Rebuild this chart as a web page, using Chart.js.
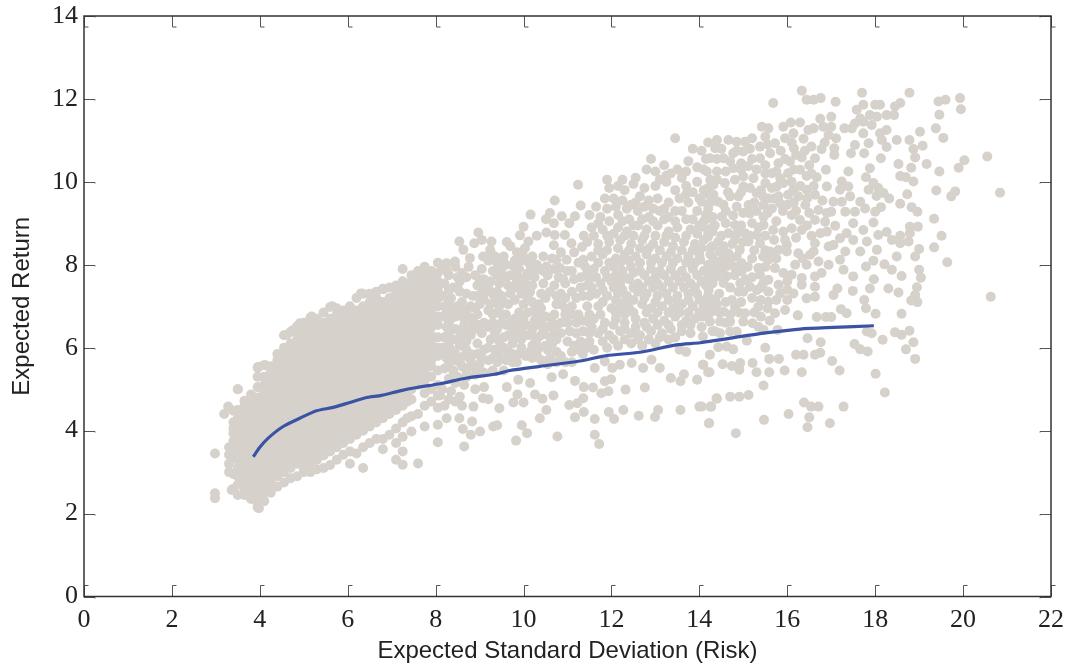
<!DOCTYPE html>
<html>
<head>
<meta charset="utf-8">
<title>Risk and return</title>
<script src="https://cdn.jsdelivr.net/npm/chart.js@4"></script>
<style>
  html, body { margin: 0; padding: 0; background: #fff; }
  #wrap { width: 1070px; height: 672px; }
</style>
</head>
<body>
<div id="wrap"><canvas id="risk-chart"></canvas></div>
<script>
// tick values
const xTickValues = [0, 2, 4, 6, 8, 10, 12, 14, 16, 18, 20, 22];
const yTickValues = [0, 2, 4, 6, 8, 10, 12, 14];

// blue curve
const frontierRisk = [3.85, 4.0, 4.19, 4.53, 4.91, 5.29, 5.67, 6.05, 6.43, 6.77, 7.19, 7.57, 8.1, 8.71, 9.35, 9.69, 10.37, 11.28, 11.89, 12.65, 13.48, 14.02, 14.46, 15.46, 16.29, 17.05, 17.97];
const frontierReturn = [3.37, 3.6, 3.82, 4.1, 4.3, 4.48, 4.56, 4.68, 4.8, 4.85, 4.96, 5.04, 5.13, 5.27, 5.36, 5.45, 5.55, 5.68, 5.81, 5.89, 6.07, 6.12, 6.19, 6.35, 6.45, 6.49, 6.53];

// solid part of the cloud, one list of returns per risk column
const coreRisk = [3.3, 3.4, 3.5, 3.65, 3.8, 3.95, 4.1, 4.25, 4.4, 4.55, 4.7, 4.85, 5.0, 5.15, 5.3, 5.45, 5.6, 5.75, 5.9, 6.05, 6.2, 6.35, 6.5, 6.65, 6.8, 6.95, 7.1, 7.25, 7.35, 7.45, 7.6, 7.75, 7.9, 8.05];
const coreReturns = [
  [3.2, 3.42, 3.0, 3.6],
  [2.6, 2.95, 3.75, 3.93, 4.2, 4.48, 3.35, 3.55, 4.05],
  [2.45, 2.7, 2.9, 3.1, 3.3, 3.5, 3.7, 3.9, 4.1, 4.3, 4.5, 5.0],
  [2.45, 2.6, 2.8, 3.0, 3.2, 3.4, 3.6, 3.8, 4.0, 4.2, 4.4, 4.6, 4.72],
  [2.35, 2.5, 2.7, 2.9, 3.1, 3.3, 3.5, 3.7, 3.9, 4.1, 4.3, 4.5, 4.7, 4.87],
  [2.15, 2.25, 2.45, 2.6, 2.8, 3.0, 3.2, 3.4, 3.6, 3.8, 4.0, 4.2, 4.4, 4.6, 4.8, 5.05, 5.3, 5.52],
  [2.3, 2.5, 2.7, 2.9, 3.1, 3.3, 3.5, 3.7, 3.9, 4.1, 4.3, 4.5, 4.7, 4.9, 5.1, 5.3, 5.58],
  [2.5, 2.6, 2.8, 3.0, 3.2, 3.4, 3.6, 3.8, 4.0, 4.2, 4.4, 4.6, 4.8, 5.0, 5.2, 5.4, 5.55],
  [2.65, 2.9, 3.1, 3.3, 3.5, 3.7, 3.9, 4.1, 4.3, 4.5, 4.7, 4.9, 5.1, 5.3, 5.5, 5.7, 5.85],
  [2.75, 3.0, 3.2, 3.4, 3.6, 3.8, 4.0, 4.2, 4.4, 4.6, 4.8, 5.0, 5.2, 5.4, 5.6, 5.8, 6.0, 6.3],
  [2.85, 3.1, 3.3, 3.5, 3.7, 3.9, 4.1, 4.3, 4.5, 4.7, 4.9, 5.1, 5.3, 5.5, 5.7, 5.9, 6.1, 6.38],
  [2.9, 3.2, 3.4, 3.6, 3.8, 4.0, 4.2, 4.4, 4.6, 4.8, 5.0, 5.2, 5.4, 5.6, 5.8, 6.0, 6.2, 6.4, 6.52],
  [3.0, 3.1, 3.3, 3.5, 3.7, 3.9, 4.1, 4.3, 4.5, 4.7, 4.9, 5.1, 5.3, 5.5, 5.7, 5.9, 6.1, 6.3, 6.5, 6.6],
  [3.0, 3.2, 3.4, 3.6, 3.8, 4.0, 4.2, 4.4, 4.6, 4.8, 5.0, 5.2, 5.4, 5.6, 5.8, 6.0, 6.2, 6.4, 6.6, 6.72],
  [3.07, 3.3, 3.5, 3.7, 3.9, 4.1, 4.3, 4.5, 4.7, 4.9, 5.1, 5.3, 5.5, 5.7, 5.9, 6.1, 6.3, 6.5, 6.7],
  [3.1, 3.4, 3.6, 3.8, 4.0, 4.2, 4.4, 4.6, 4.8, 5.0, 5.2, 5.4, 5.6, 5.8, 6.0, 6.2, 6.4, 6.6, 6.85],
  [3.17, 3.5, 3.7, 3.9, 4.1, 4.3, 4.5, 4.7, 4.9, 5.1, 5.3, 5.5, 5.7, 5.9, 6.1, 6.3, 6.5, 6.7, 6.98],
  [3.3, 3.6, 3.8, 4.0, 4.2, 4.4, 4.6, 4.8, 5.0, 5.2, 5.4, 5.6, 5.8, 6.0, 6.2, 6.4, 6.6, 6.8, 6.95],
  [3.42, 3.7, 3.9, 4.1, 4.3, 4.5, 4.7, 4.9, 5.1, 5.3, 5.5, 5.7, 5.9, 6.1, 6.3, 6.5, 6.7, 6.9],
  [3.2, 3.5, 3.8, 4.0, 4.2, 4.4, 4.6, 4.8, 5.0, 5.2, 5.4, 5.6, 5.8, 6.0, 6.2, 6.4, 6.6, 6.8, 7.0],
  [3.45, 3.9, 4.1, 4.3, 4.5, 4.7, 4.9, 5.1, 5.3, 5.5, 5.7, 5.9, 6.1, 6.3, 6.5, 6.7, 6.9, 7.2],
  [3.1, 3.6, 4.0, 4.2, 4.4, 4.6, 4.8, 5.0, 5.2, 5.4, 5.6, 5.8, 6.0, 6.2, 6.4, 6.6, 6.8, 7.0, 7.3],
  [3.7, 4.1, 4.3, 4.5, 4.7, 4.9, 5.1, 5.3, 5.5, 5.7, 5.9, 6.1, 6.3, 6.5, 6.7, 6.9, 7.1, 7.3],
  [3.8, 4.2, 4.4, 4.6, 4.8, 5.0, 5.2, 5.4, 5.6, 5.8, 6.0, 6.2, 6.4, 6.6, 6.8, 7.0, 7.2, 7.35],
  [3.55, 3.8, 4.3, 4.5, 4.7, 4.9, 5.1, 5.3, 5.5, 5.7, 5.9, 6.1, 6.3, 6.5, 6.7, 6.9, 7.1, 7.42],
  [3.9, 4.4, 4.6, 4.8, 5.0, 5.2, 5.4, 5.6, 5.8, 6.0, 6.2, 6.4, 6.6, 6.8, 7.0, 7.2, 7.45],
  [3.3, 3.7, 4.05, 4.5, 4.7, 4.9, 5.1, 5.3, 5.5, 5.7, 5.9, 6.1, 6.3, 6.5, 6.7, 6.9, 7.1, 7.3, 7.5],
  [3.18, 3.5, 3.85, 4.2, 4.6, 4.8, 5.0, 5.2, 5.4, 5.6, 5.8, 6.0, 6.2, 6.4, 6.6, 6.8, 7.0, 7.2, 7.4, 7.6, 7.9],
  [4.3, 4.7, 4.9, 5.1, 5.3, 5.5, 5.7, 5.9, 6.1, 6.3, 6.5, 6.7, 6.9, 7.1, 7.3, 7.5],
  [3.98, 4.35, 4.75, 5.0, 5.2, 5.4, 5.6, 5.8, 6.0, 6.2, 6.4, 6.6, 6.8, 7.0, 7.2, 7.4, 7.6, 7.75],
  [3.21, 4.4, 5.1, 5.3, 5.5, 5.7, 5.9, 6.1, 6.3, 6.5, 6.7, 6.9, 7.1, 7.3, 7.5, 7.7, 7.85],
  [4.1, 4.6, 4.9, 5.2, 5.4, 5.6, 5.8, 6.0, 6.2, 6.4, 6.6, 6.8, 7.0, 7.2, 7.4, 7.6, 7.75, 7.95],
  [4.7, 5.0, 5.3, 5.55, 5.7, 5.9, 6.1, 6.3, 6.5, 6.7, 6.9, 7.1, 7.3, 7.5, 7.7, 7.85],
  [3.72, 4.14, 4.55, 4.85, 5.1, 5.45, 5.8, 6.0, 6.25, 6.55, 6.75, 7.0, 7.2, 7.4, 7.6, 7.8, 8.05]
];

// the rest are risk,return,risk,return...
const strayLeft = [2.98, 3.45, 2.98, 2.49, 2.98, 2.37, 3.5, 5.0, 3.28, 4.58, 3.19, 4.4, 3.97, 5.54, 4.12, 5.58, 4.61, 6.31, 4.75, 6.42, 4.91, 6.59, 5.18, 6.75, 5.65, 7.0, 6.3, 7.31, 6.81, 7.41, 3.98, 2.13, 3.36, 2.57];

const midCloud = [
  8.15,7.95, 8.3,7.75, 8.45,7.95, 8.6,7.8, 8.75,7.95, 8.9,7.75, 9.05,7.9, 8.2,7.55, 8.4,7.45, 8.55,7.6, 8.95,7.5, 9.1,7.65,
  8.15,7.25, 8.35,7.2, 8.95,7.25, 9.1,7.3, 8.55,7.35, 8.2,7.0, 8.4,6.95, 8.6,7.1, 8.8,7.0, 9.0,7.05,
  8.15,6.75, 8.35,6.7, 8.55,6.85, 8.75,6.75, 8.95,6.8, 9.1,6.6, 8.25,6.5, 8.45,6.45, 8.65,6.55, 8.85,6.55, 9.05,6.35,
  8.2,6.25, 8.4,6.2, 8.6,6.3, 8.8,6.3, 8.95,6.1, 8.15,6.0, 8.35,5.95, 8.55,6.05, 8.8,5.85, 8.25,5.75, 8.45,5.7, 8.65,5.8, 8.95,5.85, 9.1,5.95,
  8.2,5.5, 8.4,5.45, 8.6,5.55, 8.8,5.55, 9.0,5.6, 8.3,5.25, 8.5,5.3, 8.7,5.3, 8.9,5.35, 9.1,5.4, 8.15,5.0, 8.35,4.95, 8.45,4.7, 8.2,4.6, 8.1,4.85,
  9.25,8.3, 9.4,8.05, 9.55,8.2, 9.7,8.45, 9.85,8.3, 10.05,8.1, 10.2,8.2, 9.3,7.85, 9.5,7.9, 9.7,7.75, 9.9,7.9, 10.1,7.8,
  9.25,7.6, 9.45,7.55, 9.65,7.5, 9.85,7.6, 10.05,7.55, 10.25,7.7, 9.3,7.3, 9.5,7.25, 9.7,7.3, 9.95,7.3, 10.15,7.35,
  9.25,7.05, 9.45,7.0, 9.65,7.05, 10.0,7.05, 10.2,7.1, 9.3,6.8, 9.5,6.8, 9.7,6.6, 9.9,6.85, 10.1,6.85,
  9.2,6.5, 9.4,6.45, 9.6,6.55, 9.85,6.6, 10.05,6.55, 10.25,6.65, 9.25,6.2, 9.45,6.15, 9.65,6.3, 9.85,6.25, 10.1,6.3,
  9.35,5.95, 9.55,6.0, 9.75,5.85, 9.95,6.0, 10.2,6.05, 9.2,5.7, 9.4,5.65, 9.6,5.7, 9.85,5.65, 10.05,5.8, 10.2,5.75, 9.3,5.45, 9.55,5.45,
  10.35,7.9, 10.55,7.75, 10.8,7.7, 11.0,7.85, 10.45,7.55, 10.7,7.5, 10.95,7.55, 11.15,7.65, 10.4,7.3, 10.6,7.35, 10.85,7.3, 11.1,7.35, 11.3,7.45, 11.45,7.5,
  10.35,7.05, 10.85,7.05, 11.1,7.0, 11.5,7.25, 10.3,6.8, 10.5,6.75, 10.7,6.8, 10.95,6.8, 11.45,7.0, 11.35,6.65, 11.5,6.6, 10.35,6.55, 10.55,6.5, 10.75,6.55, 11.0,6.6, 11.2,6.6,
  10.4,6.3, 10.6,6.25, 10.85,6.35, 11.05,6.4, 11.2,6.35, 10.35,6.0, 10.55,5.95, 10.65,6.1, 11.0,6.15, 11.15,6.05, 11.45,6.0, 10.4,5.7, 10.6,5.75, 10.85,5.8, 11.1,5.9, 11.35,5.85, 10.95,5.65,
  11.95,9.85, 12.15,9.9, 12.3,9.8, 12.5,9.95, 12.75,9.85, 13.0,9.9, 13.25,10.0, 13.45,9.8, 13.7,9.9, 13.95,10.0, 14.2,9.85,
  11.65,9.4, 11.85,9.6, 12.05,9.6, 12.25,9.55, 12.45,9.45, 12.65,9.65, 12.85,9.55, 13.05,9.6, 13.3,9.5, 13.55,9.6, 13.75,9.5, 14.0,9.6, 14.25,9.5,
  11.5,9.2, 11.75,9.15, 12.15,9.2, 12.4,9.1, 12.6,9.3, 12.85,9.15, 13.1,9.3, 13.3,9.15, 13.6,9.3, 13.95,9.3, 14.15,9.2,
  11.55,8.9, 11.8,8.85, 12.15,8.9, 12.35,8.8, 12.6,8.95, 12.8,8.85, 13.05,8.95, 13.3,8.8, 13.5,8.9, 13.8,8.85, 14.0,8.95, 14.3,8.9,
  11.45,8.55, 11.7,8.5, 11.95,8.55, 12.2,8.6, 12.45,8.5, 12.7,8.6, 12.95,8.5, 13.2,8.55, 13.4,8.45, 13.65,8.55, 13.9,8.5, 14.1,8.6,
  11.55,8.2, 11.8,8.25, 12.1,8.15, 12.3,8.25, 12.55,8.2, 12.8,8.25, 13.0,8.15, 13.25,8.2, 13.5,8.15, 13.75,8.2, 14.0,8.25, 14.3,8.2,
  11.6,7.9, 11.85,7.85, 12.05,7.95, 12.25,7.85, 12.45,7.95, 12.65,7.85, 12.9,7.9, 13.1,7.85, 13.35,7.9, 13.6,7.85, 13.85,7.9, 14.1,7.85, 14.35,7.9,
  11.5,7.65, 11.75,7.55, 12.0,7.6, 12.2,7.55, 12.4,7.65, 12.6,7.55, 12.85,7.6, 13.05,7.55, 13.3,7.6, 13.55,7.6, 13.8,7.55, 14.05,7.6,
  11.65,7.3, 11.9,7.25, 12.15,7.3, 12.35,7.25, 12.6,7.35, 12.8,7.3, 13.05,7.25, 13.25,7.3, 13.5,7.25, 13.75,7.3, 13.95,7.3, 14.2,7.25,
  11.7,7.0, 12.0,6.95, 12.2,7.0, 12.4,6.95, 12.7,7.05, 12.9,6.95, 13.15,7.0, 13.4,6.95, 13.6,7.05, 13.85,7.0, 14.1,7.0, 14.4,7.05,
  11.6,6.7, 11.85,6.6, 12.1,6.7, 12.3,6.6, 12.55,6.7, 12.75,6.6, 12.95,6.7, 13.2,6.65, 13.45,6.75, 13.7,6.65, 13.9,6.7,
  11.7,6.35, 11.95,6.3, 12.2,6.4, 12.45,6.35, 12.65,6.3, 12.9,6.4, 13.15,6.35, 13.35,6.45, 13.6,6.4, 13.8,6.35, 14.3,6.4,
  11.6,5.95, 11.9,6.0, 12.15,6.05, 12.45,6.1, 12.7,6.05, 13.0,6.1, 13.3,6.2, 13.55,5.95, 13.7,5.9,
  12.55,10.1, 12.8,10.3, 12.9,10.55, 13.45,11.05, 13.0,10.25, 13.2,10.4, 13.5,10.3, 13.75,10.5, 13.85,10.8, 14.05,10.75, 14.2,10.95, 13.6,10.1, 13.25,10.15, 12.25,10.05, 11.9,10.05, 14.1,10.3
];

// second pass over the same area, between the dots above
const midFill = [
  8.25,7.85, 8.5,7.7, 8.7,7.7, 9.0,7.65, 8.3,7.4, 8.5,7.45, 8.7,7.3, 8.85,7.25, 9.05,7.45, 8.3,7.1, 8.5,7.0, 8.7,6.9, 8.9,6.95, 9.1,7.15, 8.25,6.85, 8.45,6.75, 8.65,6.7, 8.85,6.7, 9.0,6.55, 8.3,6.6, 8.55,6.4, 8.75,6.45, 8.95,6.45,
  8.3,6.35, 8.5,6.2, 8.7,6.15, 8.3,6.1, 8.45,5.85, 8.7,5.95, 8.2,5.85, 8.55,5.65, 8.8,5.7, 9.05,5.75, 8.3,5.6, 8.7,5.45, 8.95,5.45, 8.45,5.15, 8.65,5.1, 8.3,4.75, 8.6,4.6, 9.1,5.05,
  9.2,8.1, 9.35,8.2, 9.6,8.0, 9.8,8.1, 9.95,8.1, 10.15,8.0, 9.4,7.75, 9.6,7.7, 9.85,7.75, 10.05,7.7, 10.25,7.9, 9.2,7.45, 9.4,7.35, 9.8,7.45, 10.0,7.45, 10.2,7.5, 9.35,7.15, 9.55,7.1, 9.8,7.15, 10.1,7.2,
  9.2,6.9, 9.4,6.85, 9.6,6.8, 9.8,6.7, 10.0,6.7, 10.25,6.9, 9.3,6.6, 9.5,6.6, 9.75,6.45, 9.95,6.4, 10.2,6.45, 9.35,6.35, 9.55,6.25, 9.75,6.1, 9.95,6.2, 10.25,6.25, 9.2,6.0, 9.45,5.8, 9.65,5.9, 9.9,5.85, 10.15,5.9, 9.3,5.75, 9.75,5.65,
  10.45,8.2, 10.65,8.15, 10.85,8.3, 11.15,8.3, 11.25,8.05, 10.45,7.85, 10.7,7.9, 10.9,7.65, 11.1,7.85, 11.3,7.7, 11.45,7.8, 10.5,7.2, 10.75,7.25, 10.95,7.2, 11.2,7.2, 11.35,7.25, 10.4,6.95, 10.75,7.05, 10.95,6.95,
  10.4,6.65, 10.65,6.6, 10.85,6.6, 11.1,6.8, 11.25,6.8, 11.5,6.8, 10.45,6.4, 10.7,6.35, 11.35,6.4, 11.5,6.35, 10.3,6.2, 10.5,6.05, 10.75,6.2, 11.3,6.15, 11.5,6.15, 10.3,5.85, 10.75,5.9, 11.25,5.95, 10.55,5.6, 10.75,5.65, 11.1,5.65,
  11.9,9.35, 12.1,9.4, 12.35,9.35, 12.55,9.5, 12.75,9.4, 12.95,9.35, 13.2,9.35, 13.45,9.3, 13.7,9.7, 13.85,9.75, 14.1,9.8, 11.7,9.0, 11.95,9.05, 12.25,9.05, 12.5,8.95, 12.7,9.1, 12.95,9.05, 13.2,9.1, 13.45,9.05, 13.7,9.1, 13.85,9.1, 14.1,9.05, 14.3,9.15,
  11.6,8.7, 11.9,8.7, 12.05,8.75, 12.3,8.7, 12.5,8.7, 12.75,8.7, 13.0,8.7, 13.25,8.7, 13.45,8.65, 13.7,8.7, 13.95,8.75, 14.2,8.75, 11.7,8.35, 11.9,8.35, 12.15,8.4, 12.4,8.35, 12.65,8.4, 12.85,8.4, 13.1,8.35, 13.35,8.3, 13.6,8.35, 13.85,8.35, 14.05,8.4, 14.25,8.4,
  11.7,8.05, 11.95,8.05, 12.2,8.05, 12.4,8.1, 12.65,8.05, 12.9,8.05, 13.15,8.05, 13.4,8.05, 13.7,8.05, 13.9,8.05, 14.2,8.0, 11.65,7.7, 11.9,7.7, 12.1,7.75, 12.3,7.7, 12.5,7.8, 12.75,7.75, 13.0,7.7, 13.2,7.75, 13.45,7.75, 13.7,7.7, 13.95,7.75, 14.2,7.7,
  11.55,7.45, 11.8,7.4, 12.05,7.45, 12.25,7.4, 12.5,7.45, 12.7,7.45, 12.95,7.45, 13.15,7.45, 13.4,7.45, 13.65,7.45, 13.9,7.45, 14.15,7.5, 11.8,7.1, 12.1,7.15, 12.3,7.1, 12.5,7.15, 12.75,7.2, 13.0,7.1, 13.3,7.15, 13.5,7.1, 13.75,7.15, 14.0,7.15, 14.3,7.15,
  11.75,6.8, 12.1,6.85, 12.3,6.8, 12.5,6.85, 12.8,6.85, 13.05,6.85, 13.3,6.85, 13.55,6.85, 13.75,6.85, 14.0,6.85, 14.25,6.85, 11.55,6.5, 11.8,6.45, 12.05,6.55, 12.3,6.45, 12.55,6.5, 12.8,6.5, 13.05,6.55, 13.3,6.55, 13.6,6.55, 13.8,6.55, 14.05,6.5,
  11.8,6.15, 12.05,6.2, 12.3,6.2, 12.6,6.2, 12.85,6.2, 13.1,6.25, 13.45,6.25, 13.1,10.05, 13.35,10.2, 13.7,10.25, 13.95,10.35, 14.15,10.55
];

const midEdges = [
  11.24,9.93, 10.71,9.55, 11.3,9.43, 10.16,9.21, 10.6,9.25, 10.51,9.1, 10.87,9.17, 11.17,9.17, 10.0,8.92, 10.69,9.0, 11.04,9.0, 8.97,8.78, 10.52,8.78, 10.71,8.72, 10.94,8.72,
  8.54,8.56, 8.88,8.52, 9.27,8.56, 9.05,8.6, 9.62,8.55, 9.92,8.71, 10.3,8.7, 10.11,8.56, 10.69,8.47, 11.09,8.52, 11.37,8.7, 11.33,8.43, 8.63,8.36, 9.24,8.36, 10.03,8.4, 10.0,8.2,
  8.25,8.04, 8.44,8.08, 8.78,8.16, 9.08,8.2, 9.46,8.16, 10.75,8.12, 10.98,8.12, 11.36,8.12, 9.78,7.96, 10.3,8.0, 10.52,7.96, 10.83,7.92, 11.4,7.96,
  8.9,5.0, 9.08,4.78, 9.2,4.76, 8.86,4.58, 9.45,4.54, 8.55,4.82, 8.25,4.3, 8.54,4.3, 8.83,4.22, 8.62,4.04, 8.8,3.9, 9.01,3.98, 8.65,3.62, 9.31,4.1, 9.4,4.13, 9.83,3.76, 9.96,4.13, 10.08,3.94, 10.77,3.86, 11.62,3.9, 11.72,3.68,
  11.62,4.28, 11.17,4.32, 11.37,4.45, 10.37,4.3, 10.52,4.5, 11.04,4.62, 11.36,4.78, 11.22,4.66, 10.0,4.68, 9.77,4.68, 9.86,4.87, 10.26,4.87, 10.43,4.77, 10.68,4.85, 9.62,5.05, 9.88,5.23, 10.15,5.15, 10.64,5.29, 10.9,5.36,
  11.17,5.2, 11.37,5.05, 11.58,5.04, 11.77,4.9, 11.93,4.95, 11.85,5.19, 11.99,5.24, 12.32,4.99, 12.76,5.04, 11.94,4.45, 12.06,4.28, 12.27,4.5, 12.62,4.36, 12.99,4.33, 13.06,4.5, 13.57,4.5, 14.0,4.58, 14.25,4.58, 14.39,4.78, 14.22,4.18,
  13.35,5.27, 13.57,5.19, 13.65,5.36, 13.95,5.23, 14.2,5.41, 14.08,5.59, 13.1,5.51, 12.72,5.51, 12.91,5.71, 12.46,5.63, 12.19,5.59, 12.02,5.51, 11.62,5.51, 11.85,5.67
];

const rightEdges = [
  16.33,12.2, 16.44,11.98, 16.6,11.98, 16.76,12.02, 17.1,11.93, 17.7,12.15, 18.78,12.15, 15.68,11.9, 19.44,11.94, 19.6,11.98, 19.46,11.62, 19.93,12.02, 19.95,11.75, 19.38,11.29, 19.55,11.06, 20.55,10.61, 20.03,10.52, 19.9,10.34, 19.46,10.25, 19.17,10.43, 19.39,9.79, 19.82,9.77, 19.73,9.65, 20.84,9.74, 19.34,9.11, 19.51,8.7, 19.34,8.42, 19.64,8.06, 20.63,7.23,
  17.58,11.74, 17.73,11.86, 18.0,11.86, 18.11,11.86, 18.57,11.9, 18.45,11.82, 17.88,11.61, 17.66,11.53, 18.04,11.57, 18.26,11.61, 18.43,11.61, 17.73,11.45, 17.92,11.37, 17.54,11.41, 17.47,11.29, 17.3,11.29, 17.73,11.17, 18.26,11.25, 18.11,11.17, 18.15,11.01, 18.49,11.01, 18.78,11.01, 19.02,11.21, 19.08,10.87, 18.87,10.79, 18.26,10.84, 17.85,10.93, 17.54,10.89, 17.45,10.69, 17.75,10.69, 18.91,10.59, 18.13,10.57, 18.53,10.43, 18.82,10.34, 17.88,10.33, 17.79,10.11, 18.57,10.14, 18.7,10.11, 18.87,10.01, 17.39,10.25, 17.24,10.01, 16.88,10.29, 16.67,10.11, 16.9,9.89, 17.2,9.81, 17.39,9.89, 17.43,9.65, 17.96,9.97, 18.07,9.85, 17.85,9.81, 18.19,9.73, 18.03,9.66, 18.32,9.6, 18.73,9.7, 18.57,9.47, 18.83,9.39, 18.96,9.28, 18.13,9.39, 17.66,9.52, 17.77,9.36, 18.0,9.28, 17.96,9.02, 17.73,8.84, 17.5,8.6, 18.07,8.72, 18.26,8.79, 18.57,8.7, 18.79,8.92, 18.97,8.92, 18.79,8.76, 18.76,8.56, 18.57,8.52, 18.38,8.6, 17.81,8.56, 18.04,8.36, 17.66,8.32, 17.96,8.1, 17.79,7.96, 18.49,8.2, 18.91,8.2, 19.0,8.38, 18.21,8.01, 18.38,7.88, 18.6,7.73, 19.0,7.88, 19.04,7.69, 18.95,7.46, 18.91,7.27, 18.82,7.14, 18.96,7.1, 18.53,7.33, 18.3,7.43, 17.97,7.65, 17.88,7.43, 17.5,7.72, 17.49,7.37, 17.14,7.43, 17.05,7.27, 17.75,7.15, 17.79,6.95, 18.01,6.82, 18.6,6.82, 17.22,6.93, 17.35,6.83, 17.0,6.74, 16.88,6.74, 16.67,6.74, 16.24,6.78,
  17.81,6.39, 17.92,6.35, 18.45,6.37, 18.6,6.31, 18.78,6.41, 18.87,6.13, 18.7,5.96, 18.91,5.73, 18.17,6.19, 17.53,6.09, 17.66,5.96, 17.83,5.91, 18.01,5.37, 18.22,4.92, 17.28,4.58, 17.02,5.68, 17.19,5.45, 16.76,6.13, 16.75,5.88, 16.63,5.83, 16.46,6.23, 16.37,5.83, 16.2,5.83, 15.81,5.73, 15.59,5.73, 15.5,6.0, 15.46,6.43, 15.78,6.43, 16.33,5.41, 15.94,5.45, 15.59,5.41, 15.3,5.41, 15.21,5.63, 14.93,5.63, 14.91,5.47, 14.74,5.56, 14.53,5.6, 14.23,5.41, 14.09,5.59,
  15.46,5.09, 15.12,4.86, 14.91,4.82, 14.7,4.82, 14.4,4.77, 14.27,4.58, 14.05,4.58, 14.22,4.18, 14.83,3.94, 15.47,4.26, 16.03,4.4, 16.38,4.68, 16.54,4.58, 16.71,4.58, 16.5,4.32, 16.46,4.08, 16.97,4.18, 15.08,6.17, 14.77,5.96, 14.62,6.03, 14.43,6.01, 14.24,5.83, 14.47,6.35, 14.7,6.39, 14.85,6.39
];

const upperCloud = [
  14.4,11.01, 14.66,11.01, 14.85,10.97, 15.04,10.97, 15.2,11.05, 15.42,11.33, 15.57,11.29, 15.5,11.09, 15.72,10.93, 15.91,11.33, 16.08,11.43, 16.29,11.43, 15.95,11.05, 16.14,11.17, 16.37,11.04, 16.48,11.25, 16.6,11.29, 16.75,11.52, 17.0,11.57, 16.82,11.33, 17.0,11.33, 16.94,11.13, 17.11,11.05, 16.78,10.79, 16.63,10.57, 17.07,10.81, 17.07,10.65, 16.15,10.81,
  14.36,10.81, 14.24,10.57, 14.55,10.57, 14.77,10.69, 15.0,10.73, 15.11,10.38, 15.38,10.85, 15.38,10.57, 15.61,10.69, 15.8,10.45, 16.06,10.49, 16.33,10.59, 14.77,10.33, 14.17,10.25, 14.4,10.25, 14.58,9.97, 14.81,10.05, 15.0,10.13, 15.23,10.09, 15.65,10.21, 15.5,9.97, 15.84,10.09, 16.02,10.21, 16.29,10.29, 16.44,10.14,
  14.32,9.93, 15.0,9.89, 15.76,9.89, 15.91,9.97, 16.14,9.81, 16.44,9.81, 14.32,9.69, 14.7,9.65, 14.89,9.65, 15.3,9.73, 15.57,9.6, 15.8,9.65, 16.02,9.69, 16.25,9.65, 16.63,9.69, 17.05,9.52, 17.24,9.52, 14.05,9.52, 14.43,9.52, 15.12,9.44, 15.46,9.44, 15.65,9.36, 15.84,9.48, 16.41,9.44, 16.71,9.32, 17.0,9.28, 17.32,9.28, 17.54,9.28,
  14.24,9.12, 14.51,9.16, 14.77,9.19, 15.15,9.24, 15.46,9.16, 16.1,9.2, 16.29,9.08, 16.63,9.08, 16.86,9.04, 17.09,8.94, 17.5,9.0, 14.09,8.92, 14.81,8.96, 15.46,8.96, 15.68,8.84, 15.91,8.8, 16.1,8.88, 16.33,8.84, 16.75,8.76, 17.35,8.76, 14.2,8.68, 14.66,8.76, 15.04,8.76, 15.3,8.72, 17.2,8.64,
  14.43,8.56, 14.81,8.6, 15.12,8.56, 15.38,8.52, 16.63,8.52, 15.99,8.48, 16.94,8.44, 17.05,8.48, 15.8,8.36, 15.61,8.32, 14.47,8.32, 14.66,8.28, 14.92,8.36, 16.6,8.32, 17.32,8.32, 16.25,8.28, 15.99,8.32, 14.02,8.12, 14.47,8.08, 14.7,8.12, 15.57,8.12, 14.96,8.04, 16.71,8.08, 16.52,8.24, 17.2,8.12, 16.94,8.0, 16.18,8.0,
  14.17,7.88, 14.96,7.84, 15.34,7.92, 15.72,7.92, 16.44,8.0, 17.28,7.88, 14.4,7.72, 14.62,7.72, 15.38,7.76, 15.91,7.8, 16.1,7.76, 16.78,7.8, 16.63,7.72, 15.57,7.64, 16.33,7.68, 14.55,7.56, 14.93,7.56, 15.15,7.47, 15.8,7.52, 16.33,7.52, 16.63,7.47, 14.21,7.39, 14.89,7.35, 15.31,7.39, 15.84,7.31, 15.57,7.35, 16.14,7.31, 16.63,7.23, 16.44,7.19,
  14.36,7.17, 14.13,7.15, 14.74,7.15, 15.57,7.11, 14.81,6.98, 15.34,6.99, 14.32,6.91, 14.55,6.87, 15.04,6.83, 15.72,6.83, 15.95,6.91, 14.05,6.75, 14.24,6.63, 14.47,6.63, 14.7,6.63, 15.0,6.63, 15.21,6.59, 14.08,6.27
];

const upperFill = [
  14.5,10.8, 14.85,10.75, 15.15,10.8, 15.55,10.9, 15.85,10.75, 16.1,10.95, 16.4,10.75, 16.55,10.85, 16.85,10.95, 14.4,10.55, 14.7,10.5, 14.95,10.45, 15.2,10.55, 15.5,10.4, 15.95,10.55, 16.2,10.65, 16.5,10.4, 14.6,10.25, 14.95,10.3, 15.3,10.3, 15.5,10.2, 15.75,10.25, 16.15,10.3, 16.55,10.2,
  14.25,10.05, 14.4,10.05, 14.65,9.75, 14.95,9.75, 15.15,9.85, 15.4,9.8, 15.65,9.85, 16.1,10.0, 16.3,9.9, 16.6,9.9, 14.2,9.7, 14.55,9.45, 14.85,9.4, 15.25,9.5, 15.45,9.65, 15.7,9.6, 16.0,9.45, 16.15,9.5, 16.45,9.6, 16.8,9.55,
  14.2,9.35, 14.6,9.3, 15.0,9.25, 15.3,9.3, 15.55,9.25, 15.9,9.3, 16.2,9.3, 16.5,9.25, 16.9,9.25, 14.35,8.95, 14.6,9.0, 14.95,8.95, 15.2,9.0, 15.35,8.9, 15.75,9.05, 16.45,8.95, 16.9,8.8, 14.3,8.8, 14.5,8.7, 14.85,8.75, 15.15,8.7, 15.5,8.7, 15.7,8.6, 16.2,8.65, 16.55,8.7,
  14.3,8.45, 14.55,8.45, 14.75,8.5, 15.0,8.55, 15.25,8.35, 15.5,8.35, 15.95,8.6, 14.25,8.25, 14.55,8.2, 14.85,8.2, 15.2,8.15, 15.45,8.2, 15.75,8.15, 16.35,8.15, 14.3,8.0, 14.6,7.95, 14.8,7.95, 15.1,7.95, 15.5,7.95, 14.25,7.75, 14.5,7.85, 14.8,7.75, 15.2,7.7, 15.45,7.55, 16.0,7.6,
  14.3,7.55, 14.7,7.45, 15.05,7.65, 15.4,7.45, 16.0,7.4, 14.45,7.3, 15.0,7.35, 15.2,7.2, 14.6,7.1, 14.95,7.1, 15.4,7.15, 15.75,7.15, 16.0,7.15, 14.2,7.0, 14.45,6.85, 14.9,6.85, 15.25,6.85, 15.55,6.95, 14.2,6.8, 14.7,6.8, 15.4,6.75, 15.6,6.65, 14.35,6.4, 14.6,6.6, 15.35,6.5
];

function pairsToPoints(list) {
  const pts = [];
  for (let i = 0; i < list.length; i += 2) pts.push({ x: list[i], y: list[i + 1] });
  return pts;
}

const cloudPoints = [];
coreRisk.forEach((x, i) => {
  coreReturns[i].forEach((y) => cloudPoints.push({ x: x, y: y }));
});
[strayLeft, midCloud, midFill, midEdges, rightEdges, upperCloud, upperFill].forEach((list) => {
  cloudPoints.push(...pairsToPoints(list));
});

const frontierPoints = frontierRisk.map((x, i) => ({ x: x, y: frontierReturn[i] }));

// little hooked tick marks and the box around the plot
const framePlugin = {
  id: "frame",
  afterDatasetsDraw(chart) {
    const { ctx, chartArea: a, scales } = chart;
    const len = 11, hook = 4;
    ctx.save();
    ctx.strokeStyle = "#555";
    ctx.lineWidth = 1;
    xTickValues.forEach((v) => {
      const x = Math.round(scales.x.getPixelForValue(v)) + 0.5;
      ctx.beginPath();
      ctx.moveTo(x, a.bottom); ctx.lineTo(x, a.bottom - len); ctx.lineTo(x + hook, a.bottom - len);
      ctx.moveTo(x, a.top); ctx.lineTo(x, a.top + len); ctx.lineTo(x + hook, a.top + len);
      ctx.stroke();
    });
    yTickValues.forEach((v) => {
      const y = Math.round(scales.y.getPixelForValue(v)) + 0.5;
      ctx.beginPath();
      ctx.moveTo(a.left, y); ctx.lineTo(a.left + len, y); ctx.lineTo(a.left + len, y + 1);
      ctx.moveTo(a.right, y); ctx.lineTo(a.right - len, y); ctx.lineTo(a.right - len, y + 1);
      ctx.stroke();
    });
    ctx.strokeStyle = "#333";
    ctx.lineWidth = 1.5;
    ctx.strokeRect(a.left, a.top, a.right - a.left, a.bottom - a.top);
    ctx.restore();
  },
};

const serif = { family: '"Liberation Serif", serif', size: 26 };
const sans = { family: '"Liberation Sans", sans-serif', size: 24 };

new Chart(document.getElementById("risk-chart"), {
  type: "scatter",
  data: {
    datasets: [
      {
        label: "Frontier",
        data: frontierPoints,
        showLine: true,
        borderColor: "#3a53a4",
        borderWidth: 3.2,
        pointRadius: 0,
        tension: 0.25,
        order: 0,
      },
      {
        label: "Portfolios",
        data: cloudPoints,
        backgroundColor: "#d6d2cb",
        borderWidth: 0,
        pointRadius: 5,
        order: 1,
      },
    ],
  },
  plugins: [framePlugin],
  options: {
    responsive: true,
    maintainAspectRatio: false,
    animation: false,
    layout: { padding: { top: 16, right: 19, left: 0, bottom: 0 } },
    plugins: { legend: { display: false }, tooltip: { enabled: false } },
    scales: {
      x: {
        min: 0,
        max: 22,
        afterFit(axis) {
          axis.height = 75.5;
          axis.paddingLeft = 0;
          axis.paddingRight = 0;
        },
        grid: { display: false, drawTicks: false },
        border: { display: false },
        ticks: { stepSize: 2, color: "#222", font: serif, padding: 8, maxRotation: 0, autoSkip: false },
        title: { display: true, text: "Expected Standard Deviation (Risk)", color: "#222", font: sans, padding: { top: 0, bottom: 6 } },
      },
      y: {
        min: 0,
        max: 14,
        afterFit(axis) {
          axis.width = 84;
          axis.paddingTop = 0;
          axis.paddingBottom = 0;
        },
        grid: { display: false, drawTicks: false },
        border: { display: false },
        ticks: { stepSize: 2, color: "#222", font: serif, padding: 6 },
        title: { display: true, text: "Expected Return", color: "#222", font: sans, padding: { top: 8, bottom: 0 } },
      },
    },
  },
});
</script>
</body>
</html>
